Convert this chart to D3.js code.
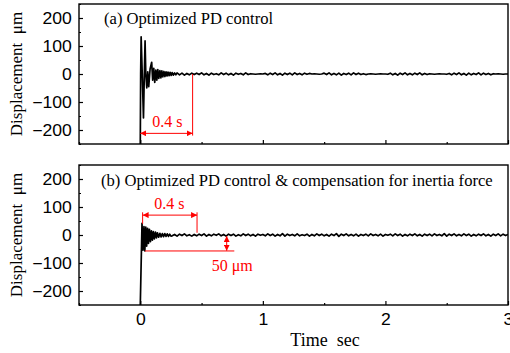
<!DOCTYPE html>
<html>
<head>
<meta charset="utf-8">
<script src="https://cdn.jsdelivr.net/npm/d3@7"></script>
<style>
  body { margin: 0; background: #fff; }
  .tk text { font-family: "Liberation Sans", Arial, sans-serif; font-size: 16px; fill: #000; }
  .serif { font-family: "Liberation Serif", "Times New Roman", serif; white-space: pre; }
</style>
</head>
<body>
<div id="chart"></div>
<script>
// panel (a): transient, [time s, displacement um]
const transientA = [
  [0, -250], [0.003, 0], [0.007, 133], [0.016, 0], [0.026, -157], [0.033, 0],
  [0.039, 118], [0.045, 0], [0.053, -50], [0.061, 8], [0.069, -45], [0.08, 18],
  [0.093, 42], [0.101, -22], [0.11, 20], [0.118, -30], [0.127, 14], [0.135, -22],
  [0.143, 16], [0.151, -16], [0.16, 12], [0.168, -14], [0.176, 11], [0.184, -10],
  [0.193, 9], [0.201, -9], [0.21, 8], [0.218, -7], [0.226, 7], [0.235, -6],
  [0.243, 6], [0.252, -5], [0.26, 5], [0.27, -4], [0.28, 4], [0.29, -3]
];
// panel (a): residual after settling, one sample every 0.02 s from 0.30 s
const settleStartA = 0.30;
const settleA = [
  4, -3, 3, -4, 2, -3, 3, -2,
  3, -2, 4, -3, 2, -4, 3, -2, 1, -3, 4, -2, 3, -3, 2, -4, 3, -1, 2, -3, 4, -2,
  1, 0, -1, 0, 1, 0,
  2, -3, 3, -2, 4, -3, 2, -4, 3, -2, 3, -3, 4, -2, 2, -3, 3, -1, 2,
  0, 1, 0, -1, 0,
  3, -2, 4, -3, 2, -3, 3, -4, 2, -2, 3, -3, 4, -2, 3, -2, 1, -2,
  0, 1, 0, -1, 0, 1, 0, 0, -1,
  3, -3, 2, -4, 3, -2, 4, -3, 2, -3, 3, -2, 4, -3, 2, -2, 1,
  0, -1, 0, 1, 0, 0, -1,
  2, -3, 3, -2, 4, -3, 2, -4, 3, -3, 2, -2, 4, -3, 3, -2, 2, -3, 1,
  0, 1, 0, -1, 0, 0
];

// panel (b): transient
const transientB = [
  [0, -250], [0.014, 42], [0.022, -54], [0.03, 30], [0.037, -57], [0.045, 28],
  [0.052, -40], [0.06, 24], [0.067, -30], [0.075, 20], [0.083, -24], [0.091, 15],
  [0.099, -18], [0.107, 12], [0.115, -14], [0.124, 10], [0.132, -10], [0.14, 8],
  [0.15, -8], [0.16, 6], [0.17, -7], [0.18, 5], [0.19, -6], [0.2, 5],
  [0.21, -5], [0.22, 4], [0.23, -5], [0.24, 3], [0.25, -4]
];
const settleStartB = 0.26;
const settleB = [
  -3, 2, -4, 3, -2, 4, -3, 1, -4, 2, -3, 3, -2, 4, -4, 2, -3, 3, -1, 4,
  -3, 2, -4, 3, -2, 3, -4, 1, -3, 4, -2, 3, -3, 2, -4, 3, -1, 2, -3, 4,
  -2, 3, -4, 2, -3, 5, -4, 3, -2, 2, -3, 4, -3, 1, -2, 3, -4, 2, -3, 4,
  -2, 3, -3, 2, -4, 3, -2, 5, -5, 3, -2, 4, -3, 2, -3, 3, -4, 2, -2, 3,
  -3, 4, -2, 2, -3, 3, -4, 2, -1, 3, -3, 4, -2, 3, -4, 2, -3, 3, -2, 4,
  -3, 2, -4, 3, -2, 3, -3, 4, -2, 2, -3, 5, -4, 3, -2, 4, -3, 2, -3, 4,
  -2, 3, -4, 2, -3, 3, -2, 4, -3, 2, -4, 3, -2, 4, -3, 3, -2, 2
];
const sampleStep = 0.02;

const xTicks = [0, 1, 2, 3];
const xMinor = [-0.5, 0.5, 1.5, 2.5];
const yTicks = [-200, -100, 0, 100, 200];
const yMinor = [-250, -150, -50, 50, 150, 250];

const titles = ["(a) Optimized PD control", "(b) Optimized PD control & compensation for inertia force"];

// annotations (data units)
const settleTimeA = 0.427;
const arrowA = { y: -212, t0: 0, t1: settleTimeA, label: "0.4 s", labelT: 0.22, labelY: -189 };
const arrowB = { y: 71, t0: 0.019, t1: 0.463, label: "0.4 s", labelT: 0.237, labelY: 93 };
const bandB = { y: -57, t0: 0.038, t1: 0.767, arrowT: 0.705, label: "50 \u03bcm", labelT: 0.75, labelY: -129 };

const W = 510, H = 353;
const left = 79, right = 508;
const panels = [{ top: 4, bottom: 144 }, { top: 165, bottom: 305 }];

const svg = d3.select("#chart").append("svg").attr("width", W).attr("height", H);

const defs = svg.append("defs");
defs.append("marker")
  .attr("id", "arr").attr("viewBox", "0 0 10 10")
  .attr("refX", 10).attr("refY", 5)
  .attr("markerWidth", 6).attr("markerHeight", 6)
  .attr("orient", "auto-start-reverse")
  .append("path").attr("d", "M0,0 L10,5 L0,10 z").attr("fill", "#ff0000");

const x = d3.scaleLinear().domain([-0.5, 3]).range([left, right]);

function buildSeries(transient, start, vals) {
  return transient.concat(vals.map((v, i) => [start + i * sampleStep, v]));
}
const seriesA = buildSeries(transientA, settleStartA, settleA);
const seriesB = buildSeries(transientB, settleStartB, settleB);

const red = "#ff0000";

panels.forEach((p, k) => {
  const y = d3.scaleLinear().domain([-250, 250]).range([p.bottom, p.top]);
  const g = svg.append("g");

  defs.append("clipPath").attr("id", "clip" + k)
    .append("rect").attr("x", left).attr("y", p.top)
    .attr("width", right - left).attr("height", p.bottom - p.top);

  // signal
  const line = d3.line().x(d => x(d[0])).y(d => y(d[1]));
  g.append("path")
    .datum(k === 0 ? seriesA : seriesB)
    .attr("clip-path", `url(#clip${k})`)
    .attr("fill", "none").attr("stroke", "#000")
    .attr("stroke-width", 1.7).attr("stroke-linejoin", "round")
    .attr("d", line);

  // axes (ticks inward)
  const xa = g.append("g").attr("class", "tk")
    .attr("transform", `translate(0,${p.bottom})`)
    .call(d3.axisBottom(x).tickValues(xTicks).tickSizeInner(-4).tickSizeOuter(0).tickPadding(9).tickFormat(d3.format("d")))
    .call(a => a.select(".domain").remove());
  xa.selectAll("line").attr("stroke", "#000").attr("stroke-width", 1.2);
  if (k === 0) xa.selectAll("text").remove();
  else xa.selectAll("text").attr("transform", "scale(1.1,1)");

  g.append("g").attr("transform", `translate(0,${p.bottom})`)
    .call(d3.axisBottom(x).tickValues(xMinor).tickSizeInner(-2).tickSizeOuter(0).tickFormat(""))
    .call(a => a.select(".domain").remove())
    .selectAll("line").attr("stroke", "#000").attr("stroke-width", 1.2);

  const ya = g.append("g").attr("class", "tk")
    .attr("transform", `translate(${left},0)`)
    .call(d3.axisLeft(y).tickValues(yTicks).tickSizeInner(-4).tickSizeOuter(0).tickPadding(6.5))
    .call(a => a.select(".domain").remove());
  ya.selectAll("line").attr("stroke", "#000").attr("stroke-width", 1.2);
  ya.selectAll("text").attr("transform", "scale(1.1,1)");

  g.append("g").attr("transform", `translate(${left},0)`)
    .call(d3.axisLeft(y).tickValues(yMinor).tickSizeInner(-2).tickSizeOuter(0).tickFormat(""))
    .call(a => a.select(".domain").remove())
    .selectAll("line").attr("stroke", "#000").attr("stroke-width", 1.2);

  // frame
  g.append("rect")
    .attr("x", left).attr("y", p.top)
    .attr("width", right - left).attr("height", p.bottom - p.top)
    .attr("fill", "none").attr("stroke", "#000").attr("stroke-width", 1.4);

  // panel title
  g.append("text").attr("class", "serif")
    .attr("x", k === 0 ? 104 : 101).attr("y", k === 0 ? 24 : 186)
    .style("font-size", "16.6px")
    .text(titles[k]);

  // y label
  g.append("text").attr("class", "serif")
    .attr("transform", `translate(22,${(p.top + p.bottom) / 2}) rotate(-90)`)
    .attr("text-anchor", "middle")
    .style("font-size", "17px")
    .text("Displacement  \u03bcm");

  const ann = g.append("g").attr("stroke", red).attr("stroke-width", 1).attr("fill", "none");
  const annText = (t, v, s) => g.append("text").attr("class", "serif")
    .attr("x", x(t)).attr("y", y(v)).attr("text-anchor", "middle")
    .attr("fill", red).style("font-size", "16px").text(s);

  if (k === 0) {
    ann.append("line")
      .attr("x1", x(settleTimeA)).attr("x2", x(settleTimeA))
      .attr("y1", y(0)).attr("y2", y(arrowA.y - 8));
    ann.append("line")
      .attr("x1", x(arrowA.t0)).attr("x2", x(arrowA.t1))
      .attr("y1", y(arrowA.y)).attr("y2", y(arrowA.y))
      .attr("marker-start", "url(#arr)").attr("marker-end", "url(#arr)");
    annText(arrowA.labelT, arrowA.labelY, arrowA.label);
  } else {
    ann.append("line")
      .attr("x1", x(arrowB.t0)).attr("x2", x(arrowB.t0))
      .attr("y1", y(arrowB.y + 10)).attr("y2", y(40));
    ann.append("line")
      .attr("x1", x(arrowB.t1)).attr("x2", x(arrowB.t1))
      .attr("y1", y(arrowB.y + 10)).attr("y2", y(8));
    ann.append("line")
      .attr("x1", x(arrowB.t0)).attr("x2", x(arrowB.t1))
      .attr("y1", y(arrowB.y)).attr("y2", y(arrowB.y))
      .attr("marker-start", "url(#arr)").attr("marker-end", "url(#arr)");
    annText(arrowB.labelT, arrowB.labelY, arrowB.label);

    ann.append("line")
      .attr("x1", x(bandB.t0)).attr("x2", x(bandB.t1))
      .attr("y1", y(bandB.y)).attr("y2", y(bandB.y));
    ann.append("line")
      .attr("x1", x(bandB.arrowT)).attr("x2", x(bandB.arrowT))
      .attr("y1", y(-4)).attr("y2", y(bandB.y + 1))
      .attr("marker-start", "url(#arr)").attr("marker-end", "url(#arr)");
    annText(bandB.labelT, bandB.labelY, bandB.label);
  }
});

// x label
svg.append("text").attr("class", "serif")
  .attr("x", 325).attr("y", 346).attr("text-anchor", "middle")
  .style("font-size", "18px")
  .text("Time  sec");
</script>
</body>
</html>
